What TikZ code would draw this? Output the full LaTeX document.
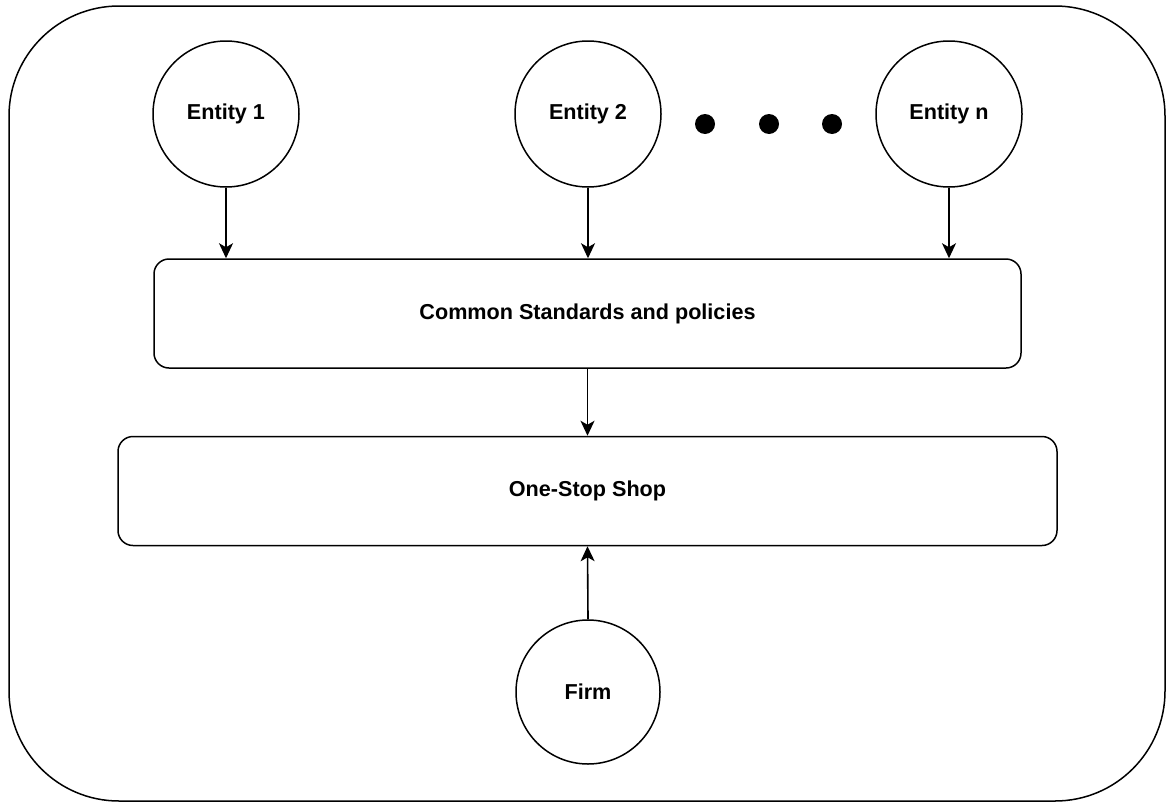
\documentclass[tikz,border=0pt]{standalone}
\usepackage{fontspec}
\setmainfont{Liberation Sans}
\usetikzlibrary{arrows.meta}
\begin{document}
\begin{tikzpicture}[x=1pt,y=-1pt,
  every node/.style={font=\bfseries\fontsize{21.6}{26}\selectfont},
  ent/.style={draw, circle, line width=1.5pt, minimum size=146pt, inner sep=0pt},
  bx/.style={draw, rectangle, rounded corners=15pt, line width=1.5pt, inner sep=0pt},
  dotnode/.style={circle, fill=black, minimum size=20pt, inner sep=0pt},
  arr/.style={line width=1.6pt, -{Stealth[length=15pt,width=14pt,inset=4pt]}}]
\useasboundingbox (0,0) rectangle (1169,803);
\node[draw, rectangle, rounded corners=110pt, line width=1.5pt, minimum width=1156pt, minimum height=795pt, inner sep=0pt] (frame) at (587,403.5) {};
\node[ent] (e1) at (226,114) {Entity 1};
\node[ent] (e2) at (588,114) {Entity 2};
\node[ent] (en) at (949,114) {Entity n};
\node[dotnode] (d1) at (705,124) {};
\node[dotnode] (d2) at (769,124) {};
\node[dotnode] (d3) at (832,124) {};
\node[bx, minimum width=867pt, minimum height=109pt] (csp) at (587.5,313.5) {Common Standards and policies};
\node[bx, minimum width=939pt, minimum height=109pt] (oss) at (587.5,491) {One-Stop Shop};
\node[ent, minimum size=144pt] (firm) at (588,692) {Firm};
\draw[arr] (e1.south) -- (e1.south |- csp.north);
\draw[arr] (e2.south) -- (e2.south |- csp.north);
\draw[arr] (en.south) -- (en.south |- csp.north);
\draw[arr] (csp.south) -- (oss.north);
\draw[arr] (firm.north) -- (oss.south);
\end{tikzpicture}
\end{document}
